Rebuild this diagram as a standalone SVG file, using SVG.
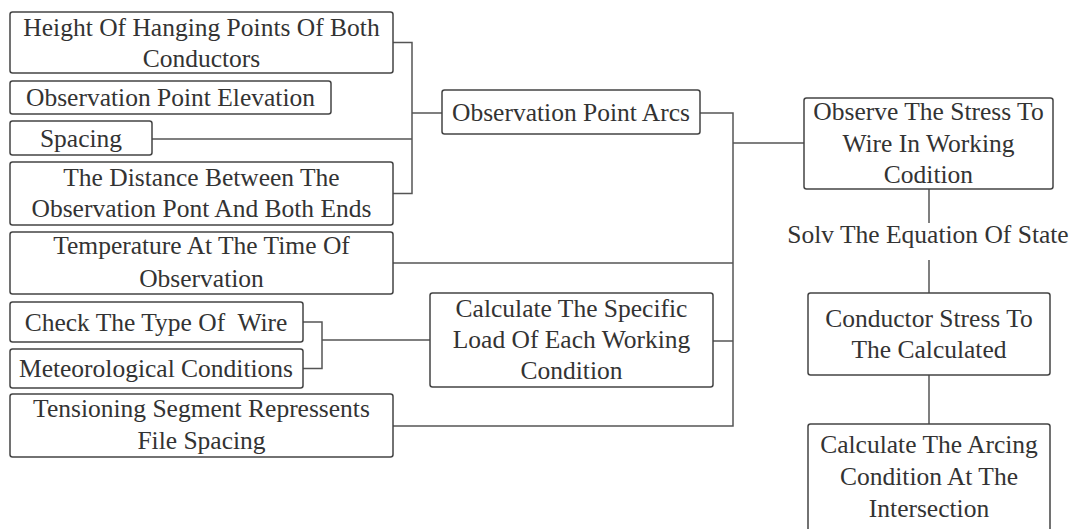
<svg xmlns="http://www.w3.org/2000/svg" width="1077" height="529" viewBox="0 0 1077 529">
<style>
.box{fill:#fff;stroke:#444;stroke-width:1.5}
.t{font-family:"Liberation Serif","DejaVu Serif",serif;font-size:25.5px;fill:#333;text-anchor:middle}
.c{fill:none;stroke:#555;stroke-width:1.5}
</style>
<rect width="1077" height="529" fill="#fff"/>
<g id="connectors">
<path class="c" d="M393,42.5 H412 V193.5 H393"/>
<path class="c" d="M152,139 H412"/>
<path class="c" d="M412,113 H442"/>
<path class="c" d="M700,113 H733 V426 H393"/>
<path class="c" d="M393,263 H733"/>
<path class="c" d="M713,341 H733"/>
<path class="c" d="M733,143 H804"/>
<path class="c" d="M303,322 H322 V368.5 H303"/>
<path class="c" d="M322,340 H430"/>
<path class="c" d="M929,189 V223"/>
<path class="c" d="M929,260 V293"/>
<path class="c" d="M929,375 V424"/>
</g>
<g id="n1"><rect class="box" x="10" y="12" width="383" height="61" rx="2.5"/>
<text class="t" x="201.5" y="36">Height Of Hanging Points Of Both</text>
<text class="t" x="201.5" y="67">Conductors</text></g>
<g id="n2"><rect class="box" x="10" y="81" width="321" height="33" rx="2.5"/>
<text class="t" x="170.5" y="106">Observation Point Elevation</text></g>
<g id="n3"><rect class="box" x="10" y="121" width="142" height="34" rx="2.5"/>
<text class="t" x="81" y="147">Spacing</text></g>
<g id="n4"><rect class="box" x="10" y="162" width="383" height="63" rx="2.5"/>
<text class="t" x="201.5" y="186">The Distance Between The</text>
<text class="t" x="201.5" y="217">Observation Pont And Both Ends</text></g>
<g id="n5"><rect class="box" x="10" y="232" width="383" height="62" rx="2.5"/>
<text class="t" x="201.5" y="254">Temperature At The Time Of</text>
<text class="t" x="201.5" y="287">Observation</text></g>
<g id="n6"><rect class="box" x="10" y="302" width="293" height="40" rx="2.5"/>
<text class="t" x="156" y="331" xml:space="preserve">Check The Type Of  Wire</text></g>
<g id="n7"><rect class="box" x="10" y="349" width="293" height="39" rx="2.5"/>
<text class="t" x="156" y="377">Meteorological Conditions</text></g>
<g id="n8"><rect class="box" x="10" y="394" width="383" height="63" rx="2.5"/>
<text class="t" x="201.5" y="417">Tensioning Segment Repressents</text>
<text class="t" x="201.5" y="449">File Spacing</text></g>
<g id="n9"><rect class="box" x="442" y="90" width="258" height="44" rx="2.5"/>
<text class="t" x="571" y="121">Observation Point Arcs</text></g>
<g id="n10"><rect class="box" x="430" y="293" width="283" height="94" rx="2.5"/>
<text class="t" x="571.5" y="317">Calculate The Specific</text>
<text class="t" x="571.5" y="348">Load Of Each Working</text>
<text class="t" x="571.5" y="379">Condition</text></g>
<g id="n11"><rect class="box" x="804" y="98" width="249" height="91" rx="2.5"/>
<text class="t" x="928.5" y="120">Observe The Stress To</text>
<text class="t" x="928.5" y="152">Wire In Working</text>
<text class="t" x="928.5" y="183">Codition</text></g>
<g id="n12"><text class="t" x="928" y="243">Solv The Equation Of State</text></g>
<g id="n13"><rect class="box" x="808" y="293" width="242" height="82" rx="2.5"/>
<text class="t" x="929" y="327">Conductor Stress To</text>
<text class="t" x="929" y="358">The Calculated</text></g>
<g id="n14"><rect class="box" x="808" y="424" width="242" height="110" rx="2.5"/>
<text class="t" x="929" y="453">Calculate The Arcing</text>
<text class="t" x="929" y="485">Condition At The</text>
<text class="t" x="929" y="517">Intersection</text></g>
</svg>
